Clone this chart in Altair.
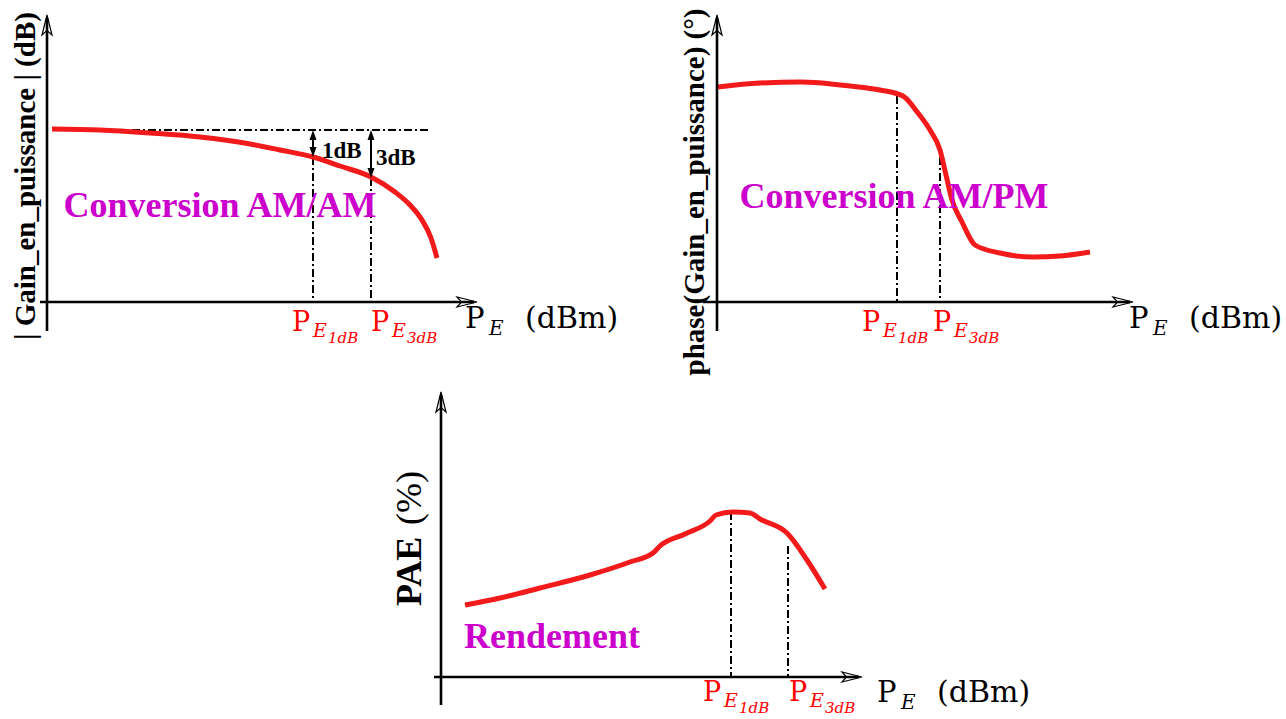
import altair as alt
import pandas as pd

W, H = 1286, 719

# ---------------- data (canvas units, y grows downward)
# red characteristic curves
am_am_x = [52, 100, 150, 200, 250, 280, 313, 340, 371, 395, 410, 422, 431, 437]
am_am_y = [129, 130, 133, 137, 144, 150, 157, 166, 177, 192, 205, 220, 238, 258]
am_pm_x = [718, 760, 800, 850, 880, 903, 918, 930, 940, 946, 952, 962, 975, 1000, 1033, 1060, 1090]
am_pm_y = [87, 83, 82, 86, 90, 96, 113, 130, 150, 175, 200, 222, 245, 253, 257, 256, 252]
pae_x = [465, 500, 540, 590, 630, 653, 660, 685, 710, 716, 733, 750, 760, 787, 807, 825]
pae_y = [605, 598, 588, 575, 562, 553, 546, 534, 521, 515, 512, 513, 519, 533, 560, 589]

# axis frames: origin x, origin y, left start of x axis, x-arrow tip, y-arrow tip, bottom of y axis
origin_x = [47, 717, 441]
origin_y = [302, 302, 677]
xaxis_start = [40, 703, 434]
xaxis_tip = [477, 1133, 862]
yaxis_tip = [15, 15, 392]
yaxis_bottom = [331, 331, 705]

# P_E1dB / P_E3dB marker lines: x, top y, bottom y
dash_x = [313, 371, 897, 940, 731, 788]
dash_top = [157, 178, 96, 157, 512, 546]
dash_bottom = [302, 302, 302, 302, 677, 677]
# reference gain level (horizontal dash-dot)
ref_x = [52]
ref_x2 = [428]
ref_y = [130]
# 1 dB / 3 dB double arrows
gap_x = [313, 371]
gap_top = [130, 130]
gap_bottom = [157, 178]
gap_text = ["1dB", "3dB"]
gap_text_x = [322, 376]
gap_text_y = [158, 165]

# texts
titles = ["Conversion AM/AM", "Conversion AM/PM", "Rendement"]
titles_x = [220, 894, 552]
titles_y = [217, 208, 648]

ytitles = ["| Gain_en_puissance | (dB)", "phase(Gain_en_puissance) (°)"]
ytitles_x = [35, 704]
ytitles_y = [176, 192]

# "P_E (dBm)" axis labels
pe_x = [465, 1129, 877]
pe_y = [328, 328, 702]

# red P_E1dB / P_E3dB labels
mk_x = [292, 371, 862, 933, 703, 789]
mk_y = [331, 331, 331, 331, 701, 701]
mk_sub = ["1dB", "3dB", "1dB", "3dB", "1dB", "3dB"]

# ---------------- build tables
curves = pd.concat([
    pd.DataFrame({"x": am_am_x, "y": am_am_y, "panel": "AM/AM"}),
    pd.DataFrame({"x": am_pm_x, "y": am_pm_y, "panel": "AM/PM"}),
    pd.DataFrame({"x": pae_x, "y": pae_y, "panel": "PAE"}),
])

axes_rows = []
for ox, oy, xs, xt, yt, yb in zip(origin_x, origin_y, xaxis_start, xaxis_tip, yaxis_tip, yaxis_bottom):
    axes_rows.append({"x": xs, "x2": xt - 3, "y": oy, "y2": oy})
    axes_rows.append({"x": ox, "x2": ox, "y": yb, "y2": yt + 3})
axes_df = pd.DataFrame(axes_rows)

up_heads = pd.DataFrame({"x": origin_x, "y": [t + 10 for t in yaxis_tip]})
right_heads = pd.DataFrame({"x": [t - 10 for t in xaxis_tip], "y": origin_y})

dash_df = pd.concat([
    pd.DataFrame({"x": dash_x, "x2": dash_x, "y": dash_top, "y2": dash_bottom}),
    pd.DataFrame({"x": ref_x, "x2": ref_x2, "y": ref_y, "y2": ref_y}),
])
gap_df = pd.DataFrame({"x": gap_x, "x2": gap_x, "y": [t + 3 for t in gap_top], "y2": [b - 3 for b in gap_bottom]})
gap_up = pd.DataFrame({"x": gap_x, "y": [t + 5 for t in gap_top]})
gap_dn = pd.DataFrame({"x": gap_x, "y": [b - 5 for b in gap_bottom]})
gap_txt = pd.DataFrame({"x": gap_text_x, "y": gap_text_y, "t": gap_text})

titles_df = pd.DataFrame({"x": titles_x, "y": titles_y, "t": titles})
ytitles_df = pd.DataFrame({"x": ytitles_x, "y": ytitles_y, "t": ytitles})
pae_bold = pd.DataFrame({"x": [421], "y": [606], "t": ["PAE"]})
pae_norm = pd.DataFrame({"x": [421], "y": [525], "t": ["(%)"]})

pe_P = pd.DataFrame({"x": pe_x, "y": pe_y, "t": "P"})
pe_E = pd.DataFrame({"x": [v + 24 for v in pe_x], "y": [v + 7 for v in pe_y], "t": "E"})
pe_U = pd.DataFrame({"x": [v + 60 for v in pe_x], "y": pe_y, "t": "(dBm)"})

mk_P = pd.DataFrame({"x": mk_x, "y": mk_y, "t": "P"})
mk_E = pd.DataFrame({"x": [v + 21 for v in mk_x], "y": [v + 6 for v in mk_y], "t": "E"})
mk_S = pd.DataFrame({"x": [v + 36 for v in mk_x], "y": [v + 12 for v in mk_y], "t": mk_sub})

# ---------------- scales
xsc = alt.Scale(domain=[0, W], nice=False, zero=False)
ysc = alt.Scale(domain=[0, H], nice=False, zero=False, reverse=True)
X = alt.X("x:Q", scale=xsc, axis=None)
Y = alt.Y("y:Q", scale=ysc, axis=None)
X2 = alt.X2("x2:Q")
Y2 = alt.Y2("y2:Q")

UP = "M0,-1 L0.5,1 L0,0.55 L-0.5,1 Z"
RIGHT = "M1,0 L-1,-0.5 L-0.55,0 L-1,0.5 Z"
SUP = "M0,-1 L0.7,1 L-0.7,1 Z"
SDN = "M0,1 L0.7,-1 L-0.7,-1 Z"

SERIF = "'Liberation Serif', 'Times New Roman', Times, serif"
CM = "'DejaVu Serif', serif"
MAG = "#cc00cc"
RED = "#ff0000"

layers = [
    alt.Chart(dash_df).mark_rule(color="black", strokeWidth=2, strokeDash=[8, 3, 2, 3]).encode(X, Y, X2, Y2),
    alt.Chart(curves).mark_line(color="#f21a1a", strokeWidth=5, interpolate="monotone").encode(X, Y, detail="panel:N"),
    alt.Chart(axes_df).mark_rule(color="black", strokeWidth=2.6).encode(X, Y, X2, Y2),
    alt.Chart(up_heads).mark_point(shape=UP, size=400, filled=False, stroke="black", strokeWidth=1.2, opacity=1).encode(X, Y),
    alt.Chart(right_heads).mark_point(shape=RIGHT, size=400, filled=False, stroke="black", strokeWidth=1.2, opacity=1).encode(X, Y),
    alt.Chart(gap_df).mark_rule(color="black", strokeWidth=2).encode(X, Y, X2, Y2),
    alt.Chart(gap_up).mark_point(shape=SUP, size=100, filled=True, color="black", opacity=1).encode(X, Y),
    alt.Chart(gap_dn).mark_point(shape=SDN, size=100, filled=True, color="black", opacity=1).encode(X, Y),
    alt.Chart(gap_txt).mark_text(font=SERIF, fontWeight="bold", fontSize=23, color="black", align="left", baseline="alphabetic").encode(X, Y, text="t:N"),
    alt.Chart(titles_df).mark_text(font=SERIF, fontWeight="bold", fontSize=36, color=MAG, align="center", baseline="alphabetic").encode(X, Y, text="t:N"),
    alt.Chart(ytitles_df).mark_text(font=SERIF, fontWeight="bold", fontSize=29, color="black", align="center", baseline="alphabetic", angle=270).encode(X, Y, text="t:N"),
    alt.Chart(pae_bold).mark_text(font=SERIF, fontWeight="bold", fontSize=36, color="black", align="left", baseline="alphabetic", angle=270).encode(X, Y, text="t:N"),
    alt.Chart(pae_norm).mark_text(font=SERIF, fontSize=36, color="black", align="left", baseline="alphabetic", angle=270).encode(X, Y, text="t:N"),
    alt.Chart(pe_P).mark_text(font=CM, fontSize=29, color="black", align="left", baseline="alphabetic").encode(X, Y, text="t:N"),
    alt.Chart(pe_E).mark_text(font=CM, fontStyle="italic", fontSize=20, color="black", align="left", baseline="alphabetic").encode(X, Y, text="t:N"),
    alt.Chart(pe_U).mark_text(font=CM, fontSize=30, color="black", align="left", baseline="alphabetic").encode(X, Y, text="t:N"),
    alt.Chart(mk_P).mark_text(font=CM, fontSize=27, color=RED, align="left", baseline="alphabetic").encode(X, Y, text="t:N"),
    alt.Chart(mk_E).mark_text(font=CM, fontStyle="italic", fontSize=19, color=RED, align="left", baseline="alphabetic").encode(X, Y, text="t:N"),
    alt.Chart(mk_S).mark_text(font=CM, fontStyle="italic", fontSize=15, color=RED, align="left", baseline="alphabetic").encode(X, Y, text="t:N"),
]

chart = alt.layer(*layers).properties(
    width=W, height=H, autosize=alt.AutoSizeParams(type="none"), padding=0, background="white"
).configure_view(stroke=None)

chart.save("out.html", embed_options={"renderer": "svg", "actions": False})
